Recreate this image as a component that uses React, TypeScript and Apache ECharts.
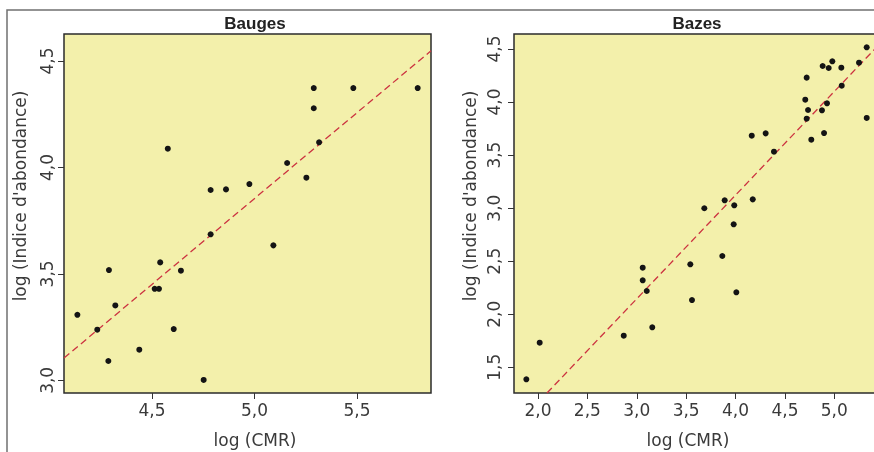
import React, { useEffect, useRef } from "react";
import * as echarts from "echarts";

// Bauges: [log(CMR), log(Indice d'abondance)]
const baugesPoints: number[][] = [
  [4.577, 4.088], [4.786, 3.894], [4.861, 3.897], [4.975, 3.922], [5.159, 4.021],
  [5.253, 3.952], [5.289, 4.373], [5.289, 4.278], [5.315, 4.118], [5.482, 4.373],
  [5.796, 4.373], [4.786, 3.686], [5.092, 3.634], [4.540, 3.554], [4.290, 3.518],
  [4.641, 3.515], [4.513, 3.430], [4.534, 3.430], [4.321, 3.352], [4.136, 3.308],
  [4.233, 3.238], [4.606, 3.241], [4.438, 3.144], [4.287, 3.091], [4.752, 3.002],
];
// Bazes
const bazesPoints: number[][] = [
  [5.328, 4.516], [4.882, 4.340], [4.943, 4.321], [4.980, 4.384], [5.071, 4.324],
  [5.250, 4.371], [4.720, 4.230], [5.075, 4.154], [4.706, 4.022], [4.734, 3.925],
  [4.926, 3.988], [4.875, 3.922], [4.720, 3.843], [5.328, 3.850], [4.896, 3.708],
  [4.767, 3.645], [4.164, 3.683], [4.305, 3.705], [4.389, 3.532], [3.890, 3.074],
  [3.684, 2.999], [3.987, 3.027], [4.174, 3.083], [3.981, 2.848], [3.866, 2.549],
  [3.060, 2.439], [3.542, 2.471], [3.060, 2.320], [3.101, 2.219], [4.008, 2.207],
  [3.559, 2.134], [3.157, 1.877], [2.868, 1.798], [2.017, 1.732], [1.882, 1.387],
];
// Regression lines (end points)
const baugesFit: number[][] = [[4.0707, 3.105], [5.8609, 4.548]];
const bazesFit: number[][] = [[2.091, 1.2578], [5.503, 4.591]];

// Axis ticks
const baugesXTicks = [4.5, 5.0, 5.5];
const baugesYTicks = [3.0, 3.5, 4.0, 4.5];
const bazesXTicks = [2.0, 2.5, 3.0, 3.5, 4.0, 4.5, 5.0];
const bazesYTicks = [1.5, 2.0, 2.5, 3.0, 3.5, 4.0, 4.5];

// Axis extents
const baugesXRange = [4.0707, 5.8609];
const baugesYRange = [2.9406, 4.6268];
const bazesXRange = [1.757, 5.503];
const bazesYRange = [1.2578, 4.6414];

const titles = ["Bauges", "Bazes"];
const xTitle = "log (CMR)";
const yTitle = "log (Indice d'abondance)";

const FONT = "DejaVu Sans";
const fmt = (v: number) => v.toFixed(1).replace(".", ",");

function xAxisCfg(grid: number, range: number[], ticks: number[]) {
  return {
    type: "value",
    gridIndex: grid,
    min: range[0],
    max: range[1],
    axisLine: { show: false },
    splitLine: { show: false },
    axisTick: { show: true, length: 6, customValues: ticks, lineStyle: { color: "#333", width: 1 } },
    axisLabel: {
      customValues: ticks,
      formatter: fmt,
      fontFamily: FONT,
      fontSize: 17,
      color: "#3a3a3a",
      margin: 8,
    },
  };
}
function yAxisCfg(grid: number, range: number[], ticks: number[], margin: number) {
  return {
    type: "value",
    gridIndex: grid,
    min: range[0],
    max: range[1],
    axisLine: { show: false },
    splitLine: { show: false },
    axisTick: { show: true, length: 6, customValues: ticks, lineStyle: { color: "#333", width: 1 } },
    axisLabel: {
      customValues: ticks,
      formatter: fmt,
      rotate: 90,
      fontFamily: FONT,
      fontSize: 17,
      color: "#3a3a3a",
      margin,
    },
  };
}

export default function App() {
  const ref = useRef<HTMLDivElement>(null);
  useEffect(() => {
    document.body.style.overflow = "hidden";
    const chart = echarts.init(ref.current!, null, { renderer: "svg" });
    const gridStyle = {
      show: true,
      backgroundColor: "#f3f0ab",
      borderColor: "#2b2b2b",
      borderWidth: 1.5,
    };
    const textStyle = (s: string, x: number, y: number, extra: any = {}) => ({
      type: "text",
      x,
      y,
      style: {
        text: s,
        fontFamily: FONT,
        fontSize: 17,
        fill: "#3a3a3a",
        align: "center",
        verticalAlign: "middle",
        ...extra,
      },
    });
    chart.setOption({
      animation: false,
      grid: [
        { left: 64, top: 34, width: 367, height: 359, ...gridStyle },
        { left: 514, top: 34, width: 370, height: 359, ...gridStyle },
      ],
      xAxis: [
        xAxisCfg(0, baugesXRange, baugesXTicks),
        xAxisCfg(1, bazesXRange, bazesXTicks),
      ],
      yAxis: [
        yAxisCfg(0, baugesYRange, baugesYTicks, 9),
        yAxisCfg(1, bazesYRange, bazesYTicks, 12),
      ],
      graphic: [
        {
          type: "rect",
          shape: { x: 7, y: 10, width: 900, height: 500 },
          style: { fill: "none", stroke: "#707070", lineWidth: 1.5 },
          z: -1,
        },
        {
          ...textStyle(titles[0], 255, 23, { fontFamily: "Liberation Sans", fontWeight: "bold", fontSize: 17, fill: "#222" }),
        },
        {
          ...textStyle(titles[1], 697, 23, { fontFamily: "Liberation Sans", fontWeight: "bold", fontSize: 17, fill: "#222" }),
        },
        textStyle(xTitle, 255, 440),
        textStyle(xTitle, 688, 440),
        { ...textStyle(yTitle, 20, 196), rotation: Math.PI / 2 },
        { ...textStyle(yTitle, 470, 196), rotation: Math.PI / 2 },
      ],
      series: [
        {
          type: "line",
          xAxisIndex: 0,
          yAxisIndex: 0,
          data: baugesFit,
          showSymbol: false,
          silent: true,
          lineStyle: { color: "#cc3340", width: 1.3, type: [7, 4] },
          z: 2,
        },
        {
          type: "line",
          xAxisIndex: 1,
          yAxisIndex: 1,
          data: bazesFit,
          showSymbol: false,
          silent: true,
          lineStyle: { color: "#cc3340", width: 1.3, type: [7, 4] },
          z: 2,
        },
        {
          type: "scatter",
          xAxisIndex: 0,
          yAxisIndex: 0,
          data: baugesPoints,
          symbolSize: 6,
          itemStyle: { color: "#141414", opacity: 1 },
          z: 3,
        },
        {
          type: "scatter",
          xAxisIndex: 1,
          yAxisIndex: 1,
          data: bazesPoints,
          symbolSize: 6,
          itemStyle: { color: "#141414", opacity: 1 },
          z: 3,
        },
      ],
    });
    return () => chart.dispose();
  }, []);
  return (
    <div
      ref={ref}
      style={{ position: "fixed", left: 0, top: 0, width: 900, height: 452 }}
    />
  );
}
